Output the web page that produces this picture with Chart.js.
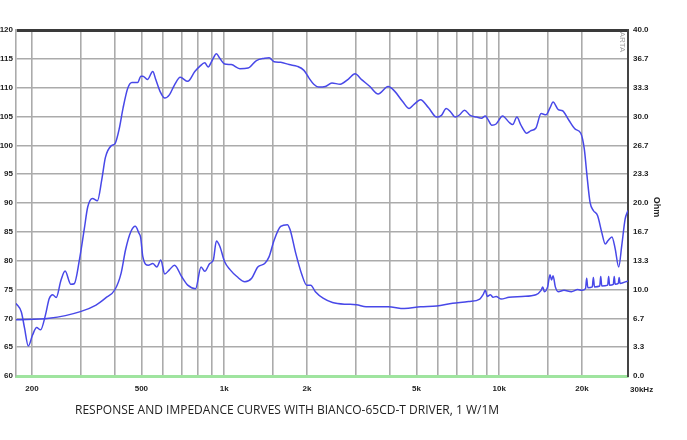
<!DOCTYPE html>
<html>
<head>
<meta charset="utf-8">
<script src="https://cdn.jsdelivr.net/npm/chart.js@4/dist/chart.umd.min.js"></script>
<style>
  html, body { margin: 0; padding: 0; background: #fff; }
  #wrap { width: 687px; height: 440px; }
</style>
</head>
<body>
<div id="wrap"><canvas id="c" width="687" height="440"></canvas></div>
<script>
// Frequency response (dB SPL, left axis)
const SPL_FREQ = [175, 183, 188, 194, 201, 208, 215, 224, 231, 238, 245, 255, 264, 277, 285, 298, 310, 319, 332, 346,
    359, 370, 388, 401, 415, 429, 446, 462, 485, 498, 506, 526, 550, 564, 584, 608, 633, 660, 692, 737,
    782, 815, 850, 874, 906, 937, 964, 1004, 1061, 1140, 1222, 1310, 1404, 1457, 1519, 1605, 1722, 1845, 1950, 2032,
    2117, 2206, 2332, 2464, 2641, 2830, 2991, 3160, 3388, 3630, 3946, 4165, 4456, 4706, 4903, 5175, 5537, 5922, 6165, 6418,
    6681, 6917, 7183, 7477, 7843, 8280, 8620, 8903, 9100, 9404, 9744, 10284, 10858, 11200, 11600, 11970, 12600, 13000, 13600, 14200,
    14800, 15300, 15700, 16400, 17000, 17900, 18900, 19800, 20400, 20800, 21400, 22000, 22800, 23600, 24300, 24900, 25700, 26400, 27200, 27900,
    28700, 29400];
const SPL_DB = [72.6, 71.1, 68.3, 65.2, 67.1, 68.4, 68.0, 70.6, 73.4, 74.1, 73.6, 76.6, 78.2, 75.9, 76.0, 80.3, 85.5, 89.3, 90.8, 90.4,
    94.1, 97.9, 99.9, 100.3, 102.8, 106.5, 109.9, 110.9, 110.9, 112.0, 112.0, 111.4, 112.8, 111.4, 109.4, 108.2, 108.8, 110.5, 111.8, 111.1,
    112.8, 113.7, 114.3, 113.6, 114.8, 115.9, 115.1, 114.1, 114.0, 113.3, 113.4, 114.7, 115.1, 115.2, 114.5, 114.4, 114.0, 113.7, 113.0, 111.7,
    110.6, 110.1, 110.2, 110.8, 110.6, 111.5, 112.4, 111.4, 110.2, 108.9, 110.2, 109.4, 107.6, 106.4, 107.1, 107.9, 106.5, 104.9, 105.2, 106.4,
    105.7, 104.9, 105.3, 106.1, 105.2, 104.9, 104.7, 105.1, 104.5, 103.5, 103.7, 105.1, 104.0, 103.6, 104.9, 103.6, 102.1, 102.5, 103.0, 105.5,
    105.3, 106.5, 107.5, 106.2, 106.0, 104.4, 102.8, 102.1, 99.3, 95.3, 90.1, 88.7, 87.8, 84.9, 82.9, 83.5, 84.1, 82.1, 78.9, 82.6,
    87.2, 88.7];

// Impedance (Ohm, right axis)
const IMP_FREQ = [175, 231, 300, 342, 370, 401, 422, 438, 458, 475, 490, 497, 506, 530, 550, 569, 588, 608, 633, 660,
    700, 737, 787, 824, 850, 886, 913, 937, 964, 1004, 1050, 1112, 1189, 1259, 1325, 1404, 1457, 1519, 1605, 1697,
    1737, 1820, 1917, 1996, 2064, 2146, 2289, 2477, 2754, 3025, 3280, 3946, 4517, 5175, 5922, 6771, 7738, 8500, 8740, 8903,
    9045, 9290, 9500, 9744, 10150, 10858, 12100, 13600, 14200, 14400, 14600, 15000, 15300, 15500, 15700, 16000, 16400, 17200, 18300, 19300,
    20000, 20600, 20800, 21000, 21800, 22000, 22200, 23200, 23400, 23600, 24800, 25000, 25200, 26000, 26200, 26400, 27100, 27300, 27500, 29400];
const IMP_OHM = [6.5, 6.67, 7.44, 8.2, 9.0, 10.0, 11.9, 14.6, 16.7, 17.3, 16.5, 16.0, 13.8, 12.8, 13.0, 12.6, 13.4, 11.8, 12.3, 12.8,
    11.5, 10.5, 10.1, 12.6, 12.1, 13.0, 13.4, 15.6, 15.0, 13.2, 12.3, 11.5, 10.9, 11.3, 12.6, 13.0, 13.8, 15.7, 17.3, 17.5,
    16.9, 14.2, 11.7, 10.5, 10.5, 9.75, 9.0, 8.5, 8.3, 8.25, 8.0, 8.0, 7.8, 8.0, 8.1, 8.4, 8.6, 8.9, 9.4, 9.9,
    9.2, 9.4, 9.1, 9.2, 8.9, 9.1, 9.2, 9.4, 9.9, 10.3, 9.75, 10.3, 11.7, 11.1, 11.6, 10.3, 9.75, 9.9, 9.75, 10.0,
    9.9, 10.1, 11.3, 10.2, 10.3, 11.4, 10.3, 10.4, 11.5, 10.4, 10.5, 11.5, 10.5, 10.6, 11.5, 10.6, 10.7, 11.4, 10.7, 11.0];

// Axis ticks
const X_MIN = 175;
const X_MAX = 29400;
const X_TICKS = [200, 300, 400, 500, 600, 700, 800, 900, 1000, 1500, 2000, 3000, 4000, 5000, 6000, 7000, 8000, 9000,
    10000, 15000, 20000, X_MAX];
const X_LABELS = { 200: '200', 500: '500', 1000: '1k', 2000: '2k', 5000: '5k', 10000: '10k', 20000: '20k' };
const X_END_LABEL = '30kHz';
const OHM_TICKS = [0, 3.333, 6.667, 10, 13.333, 16.667, 20, 23.333, 26.667, 30, 33.333, 36.667, 40];

const CURVE = 'rgb(72, 72, 232)';
const GRID = '#ababab';
const tickFont = { family: '"Liberation Sans", Arial, sans-serif', size: 8, weight: 'bold' };

const toXY = (xs, ys) => xs.map((x, i) => ({ x, y: ys[i] }));

// extra labels: title, "Ohm", axis end label, watermark
const textPlugin = {
    id: 'texts',
    afterDraw(chart) {
        const ctx = chart.ctx;
        const xs = chart.scales.x;
        ctx.save();
        ctx.fillStyle = '#222';
        ctx.textBaseline = 'top';
        ctx.textAlign = 'left';
        ctx.font = 'bold 8px "Liberation Sans", Arial, sans-serif';
        ctx.fillText(X_END_LABEL, xs.getPixelForValue(X_MAX) + 2, xs.top + 10);

        ctx.font = '12px "Open Sans", sans-serif';
        ctx.textBaseline = 'middle';
        ctx.fillText('RESPONSE AND IMPEDANCE CURVES WITH BIANCO-65CD-T DRIVER, 1 W/1M', 75, 411);

        ctx.translate(656, 207);
        ctx.rotate(Math.PI / 2);
        ctx.textAlign = 'center';
        ctx.font = 'bold 9px "Liberation Sans", Arial, sans-serif';
        ctx.fillText('Ohm', 0, 0);
        ctx.restore();

        ctx.save();
        ctx.translate(622, 42);
        ctx.rotate(Math.PI / 2);
        ctx.fillStyle = '#a0a0a0';
        ctx.textAlign = 'center';
        ctx.textBaseline = 'middle';
        ctx.font = '8px "Liberation Sans", Arial, sans-serif';
        ctx.fillText('ARTA', 0, 0);
        ctx.restore();
    }
};

new Chart(document.getElementById('c'), {
    type: 'line',
    data: {
        datasets: [
            {
                label: 'SPL',
                data: toXY(SPL_FREQ, SPL_DB),
                yAxisID: 'y',
                borderColor: CURVE,
                borderWidth: 1.5,
                pointRadius: 0,
                cubicInterpolationMode: 'monotone',
            },
            {
                label: 'Impedance',
                data: toXY(IMP_FREQ, IMP_OHM),
                yAxisID: 'y2',
                borderColor: CURVE,
                borderWidth: 1.5,
                pointRadius: 0,
                cubicInterpolationMode: 'monotone',
            },
        ],
    },
    options: {
        responsive: false,
        animation: false,
        devicePixelRatio: 1,
        layout: { padding: { top: 30, left: 0, right: 0, bottom: 0 } },
        plugins: { legend: { display: false }, tooltip: { enabled: false } },
        scales: {
            x: {
                type: 'logarithmic',
                min: X_MIN,
                max: X_MAX,
                afterBuildTicks: (scale) => { scale.ticks = X_TICKS.map(v => ({ value: v })); },
                afterFit: (scale) => { scale.height = 64; },
                ticks: {
                    autoSkip: false,
                    maxRotation: 0,
                    padding: 8,
                    color: '#222',
                    font: tickFont,
                    callback: (v) => X_LABELS[v] || '',
                },
                grid: {
                    drawTicks: false,
                    lineWidth: 1.6,
                    color: (c) => (c.tick && c.tick.value === X_MAX ? '#444' : GRID),
                },
                border: { color: '#9fe49f', width: 3 },
            },
            y: {
                position: 'left',
                min: 60,
                max: 120,
                afterFit: (scale) => { scale.width = 16; },
                ticks: { stepSize: 5, padding: 3, color: '#222', font: tickFont },
                grid: {
                    drawTicks: false,
                    lineWidth: (c) => (c.tick && c.tick.value === 120 ? 3 : 1.6),
                    color: (c) => {
                        if (!c.tick) return GRID;
                        if (c.tick.value === 120) return '#3a3a3a';
                        if (c.tick.value === 60) return '#9fe49f';
                        return GRID;
                    },
                },
                border: { color: GRID, width: 1.6 },
            },
            y2: {
                position: 'right',
                min: 0,
                max: 40,
                afterBuildTicks: (scale) => { scale.ticks = OHM_TICKS.map(v => ({ value: v })); },
                afterFit: (scale) => { scale.width = 59; },
                ticks: {
                    padding: 5,
                    color: '#222',
                    font: tickFont,
                    callback: (v) => v.toFixed(1),
                },
                grid: { display: false, drawTicks: false },
                border: { color: '#444', width: 2 },
            },
        },
    },
    plugins: [textPlugin],
});
</script>
</body>
</html>
